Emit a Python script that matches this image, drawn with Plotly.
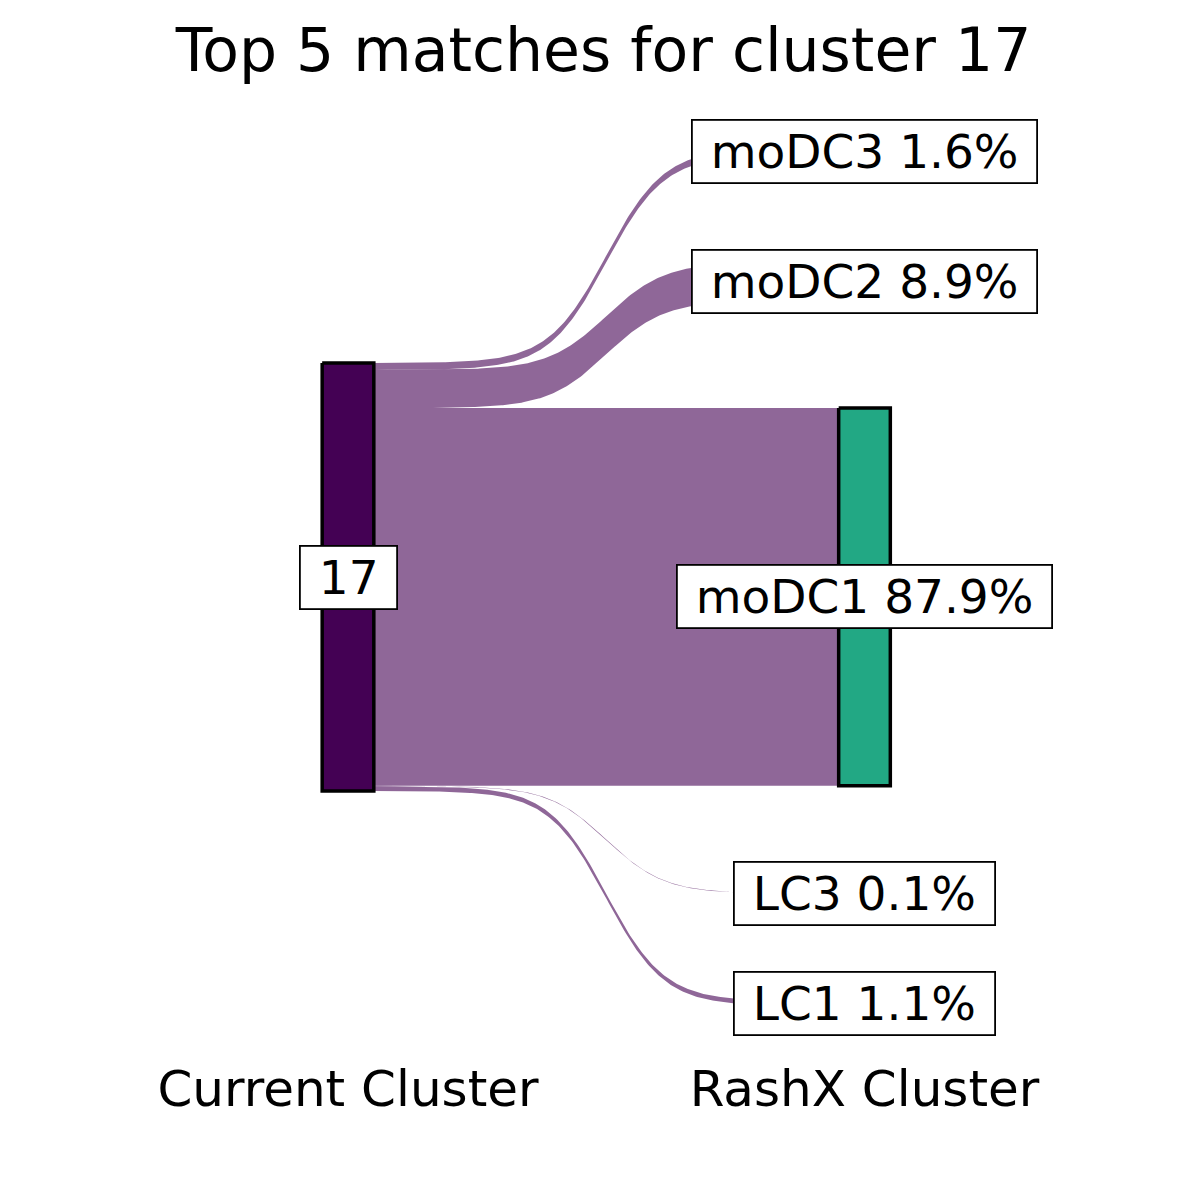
import numpy as np
import plotly.graph_objects as go

# ---------------- data ----------------
title_text = "Top 5 matches for cluster 17"
source_label = "17"
target_labels = ["moDC3", "moDC2", "moDC1", "LC3", "LC1"]
target_pct = [1.6, 8.9, 87.9, 0.1, 1.1]
axis_labels = ["Current Cluster", "RashX Cluster"]

# ---------------- style / layout ----------------
W = H = 1200
FONT = "DejaVu Sans"
node_colors = {"17": "#440154", "LC1": "#414487", "LC3": "#2A788E",
               "moDC1": "#22A884", "moDC2": "#7AD151", "moDC3": "#FDE725"}
flow_color = "rgba(68,1,84,0.6)"
NODE_W = 0.1        # node width in x units
GAP = 25.0          # vertical space between nodes (data units)
SMOOTH = 8          # sigmoid smoothness of the flows

# pixel mapping of the panel
M_T, M_B = 100, 145
PX_PER_UNIT = 428 / 99.6
Y_CENTER_PX = 577
X1_PX, X2_PX = 348, 864.5
kx = X2_PX - X1_PX
x_range = [1 - X1_PX / kx, 1 + (W - X1_PX) / kx]
y_range = [(Y_CENTER_PX - (H - M_B)) / PX_PER_UNIT, (Y_CENTER_PX - M_T) / PX_PER_UNIT]


def stack(values, gap):
    total = sum(values) + gap * (len(values) - 1)
    top = total / 2
    out = []
    for v in values:
        out.append((top, top - v))
        top = top - v - gap
    return out


left_flows = stack(target_pct, 0.0)
right_nodes = stack(target_pct, GAP)
left_node = (left_flows[0][0], left_flows[-1][1])

fig = go.Figure()

# flows
z = np.linspace(-SMOOTH, SMOOTH, 300)
s = 1 / (1 + np.exp(-z))
s = (s - s[0]) / (s[-1] - s[0])
xa, xb = 1 + NODE_W / 2, 2 - NODE_W / 2
xs = xa + (xb - xa) * (z + SMOOTH) / (2 * SMOOTH)
for (lt, lb), (rt, rb) in zip(left_flows, right_nodes):
    up = lt + (rt - lt) * s
    lo = lb + (rb - lb) * s
    fig.add_trace(go.Scatter(
        x=np.concatenate([xs, xs[::-1]]), y=np.concatenate([up, lo[::-1]]),
        mode="lines", fill="toself", fillcolor=flow_color,
        line=dict(width=0, color=flow_color), hoverinfo="skip", showlegend=False))


def add_node(xc, top, bot, color):
    x0, x1 = xc - NODE_W / 2, xc + NODE_W / 2
    fig.add_trace(go.Scatter(
        x=[x0, x1, x1, x0, x0], y=[top, top, bot, bot, top],
        mode="lines", fill="toself", fillcolor=color,
        line=dict(color="black", width=3.5), hoverinfo="skip", showlegend=False))


add_node(1, left_node[0], left_node[1], node_colors[source_label])
for lab, (t, b) in zip(target_labels, right_nodes):
    add_node(2, t, b, node_colors[lab])

NB = "\u00a0"
lab_font = dict(family=FONT, size=47, color="black")


def add_label(xc, yc, text):
    fig.add_annotation(x=xc, y=yc, xref="x", yref="y", text=NB + text + NB,
                       showarrow=False, font=lab_font, bgcolor="white",
                       bordercolor="black", borderwidth=1.8, borderpad=3,
                       xanchor="center", yanchor="middle")


add_label(1, (left_node[0] + left_node[1]) / 2, source_label)
for lab, v, (t, b) in zip(target_labels, target_pct, right_nodes):
    add_label(2, (t + b) / 2, f"{lab} {v:.1f}%")

fig.update_layout(
    width=W, height=H,
    margin=dict(l=0, r=0, t=M_T, b=M_B),
    paper_bgcolor="white", plot_bgcolor="white",
    title=dict(text=title_text, x=0.503, xanchor="center", y=1 - 50 / H,
               yref="container", yanchor="middle",
               font=dict(family=FONT, size=60, color="black")),
    xaxis=dict(range=x_range, showgrid=False, zeroline=False, showline=False,
               tickvals=[1, 2], ticktext=axis_labels, ticks="",
               tickfont=dict(family=FONT, size=50, color="black"), fixedrange=True),
    yaxis=dict(range=y_range, visible=False, fixedrange=True),
    showlegend=False,
)

fig.write_html("out.html")
